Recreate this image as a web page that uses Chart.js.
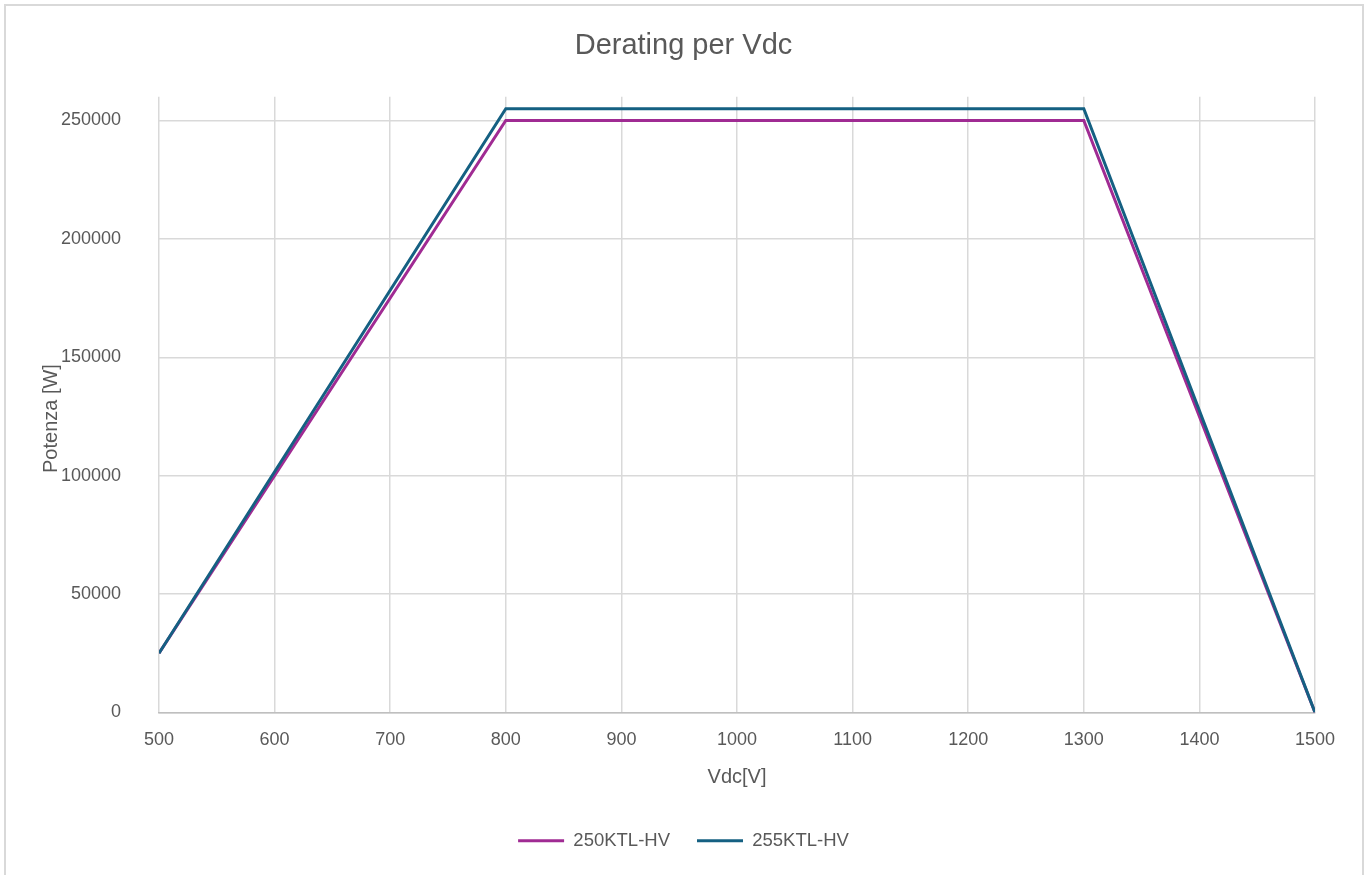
<!DOCTYPE html>
<html>
<head>
<meta charset="utf-8">
<title>Derating per Vdc</title>
<script src="https://cdn.jsdelivr.net/npm/chart.js@4"></script>
<style>
    html, body { margin: 0; padding: 0; background: #fff; }
    #frame {
        position: absolute; left: 4px; top: 4px; width: 1360px; height: 890px;
        border: 2px solid #d9d9d9; box-sizing: border-box;
    }
    #deratingChart { position: absolute; left: 0; top: 0; }
</style>
</head>
<body>
<div id="frame"></div>
<canvas id="deratingChart" width="1369" height="875"></canvas>
<script>
// data
const vdc = [500, 800, 1300, 1500];
const power250 = [25000, 250000, 250000, 0];
const power255 = [25000, 255000, 255000, 0];
const seriesNames = ['250KTL-HV', '255KTL-HV'];
const seriesColors = ['#a02b93', '#156082'];
const xTicks = [500, 600, 700, 800, 900, 1000, 1100, 1200, 1300, 1400, 1500];
const yTicks = [0, 50000, 100000, 150000, 200000, 250000];

const TEXT = '#595959';
const GRID = '#d9d9d9';
const FONT = "'Liberation Sans', Arial, sans-serif";

function toPoints(xs, ys) {
    return xs.map((x, i) => ({ x: x, y: ys[i] }));
}

const ctx = document.getElementById('deratingChart');
new Chart(ctx, {
    type: 'line',
    data: {
        datasets: [{
            label: seriesNames[0],
            data: toPoints(vdc, power250),
            borderColor: seriesColors[0],
            backgroundColor: seriesColors[0],
            borderWidth: 3,
            pointRadius: 0,
            tension: 0,
            order: 1
        }, {
            label: seriesNames[1],
            data: toPoints(vdc, power255),
            borderColor: seriesColors[1],
            backgroundColor: seriesColors[1],
            borderWidth: 3,
            pointRadius: 0,
            tension: 0,
            order: 0
        }]
    },
    options: {
        responsive: false,
        animation: false,
        layout: { padding: { left: 52, top: 29, right: 54, bottom: 15 } },
        plugins: {
            title: {
                display: true,
                text: 'Derating per Vdc',
                color: TEXT,
                font: { family: FONT, size: 29, weight: 'normal' },
                padding: { top: 0, bottom: 33 }
            },
            legend: {
                position: 'bottom',
                labels: {
                    color: TEXT,
                    font: { family: FONT, size: 18.5 },
                    boxWidth: 46,
                    boxHeight: 3,
                    padding: 27,
                    sort: (a, b) => a.datasetIndex - b.datasetIndex,
                    generateLabels: chart => {
                        const items = Chart.defaults.plugins.legend.labels.generateLabels(chart);
                        items.forEach(it => { it.lineWidth = 0; it.fillStyle = it.strokeStyle; });
                        return items;
                    }
                }
            },
            tooltip: { enabled: false }
        },
        scales: {
            x: {
                type: 'linear',
                min: 500,
                max: 1500,
                afterBuildTicks: scale => { scale.ticks = xTicks.map(v => ({ value: v })); },
                ticks: {
                    autoSkip: false,
                    color: TEXT,
                    font: { family: FONT, size: 18 },
                    padding: 17,
                    callback: v => String(v)
                },
                grid: { color: GRID, lineWidth: 1.5, drawTicks: false },
                border: { color: '#bfbfbf', width: 1.5 },
                title: {
                    display: true,
                    text: 'Vdc[V]',
                    color: TEXT,
                    font: { family: FONT, size: 20 },
                    padding: { top: 4, bottom: 15 }
                },
                afterFit: scale => { scale.height = 92; }
            },
            y: {
                min: 0,
                max: 260000,
                afterBuildTicks: scale => { scale.ticks = yTicks.map(v => ({ value: v })); },
                ticks: {
                    autoSkip: false,
                    color: TEXT,
                    font: { family: FONT, size: 18 },
                    padding: 38,
                    callback: v => String(v)
                },
                grid: { color: GRID, lineWidth: 1.5, drawTicks: false },
                border: { display: false },
                title: {
                    display: true,
                    // trailing spaces push the rotated label down between the tick labels, like Excel
                    text: 'Potenza [W]     ',
                    color: TEXT,
                    font: { family: FONT, size: 20 },
                    padding: { top: -13, bottom: 4 }
                },
                afterFit: scale => { scale.width = 107; }
            }
        }
    }
});
</script>
</body>
</html>
